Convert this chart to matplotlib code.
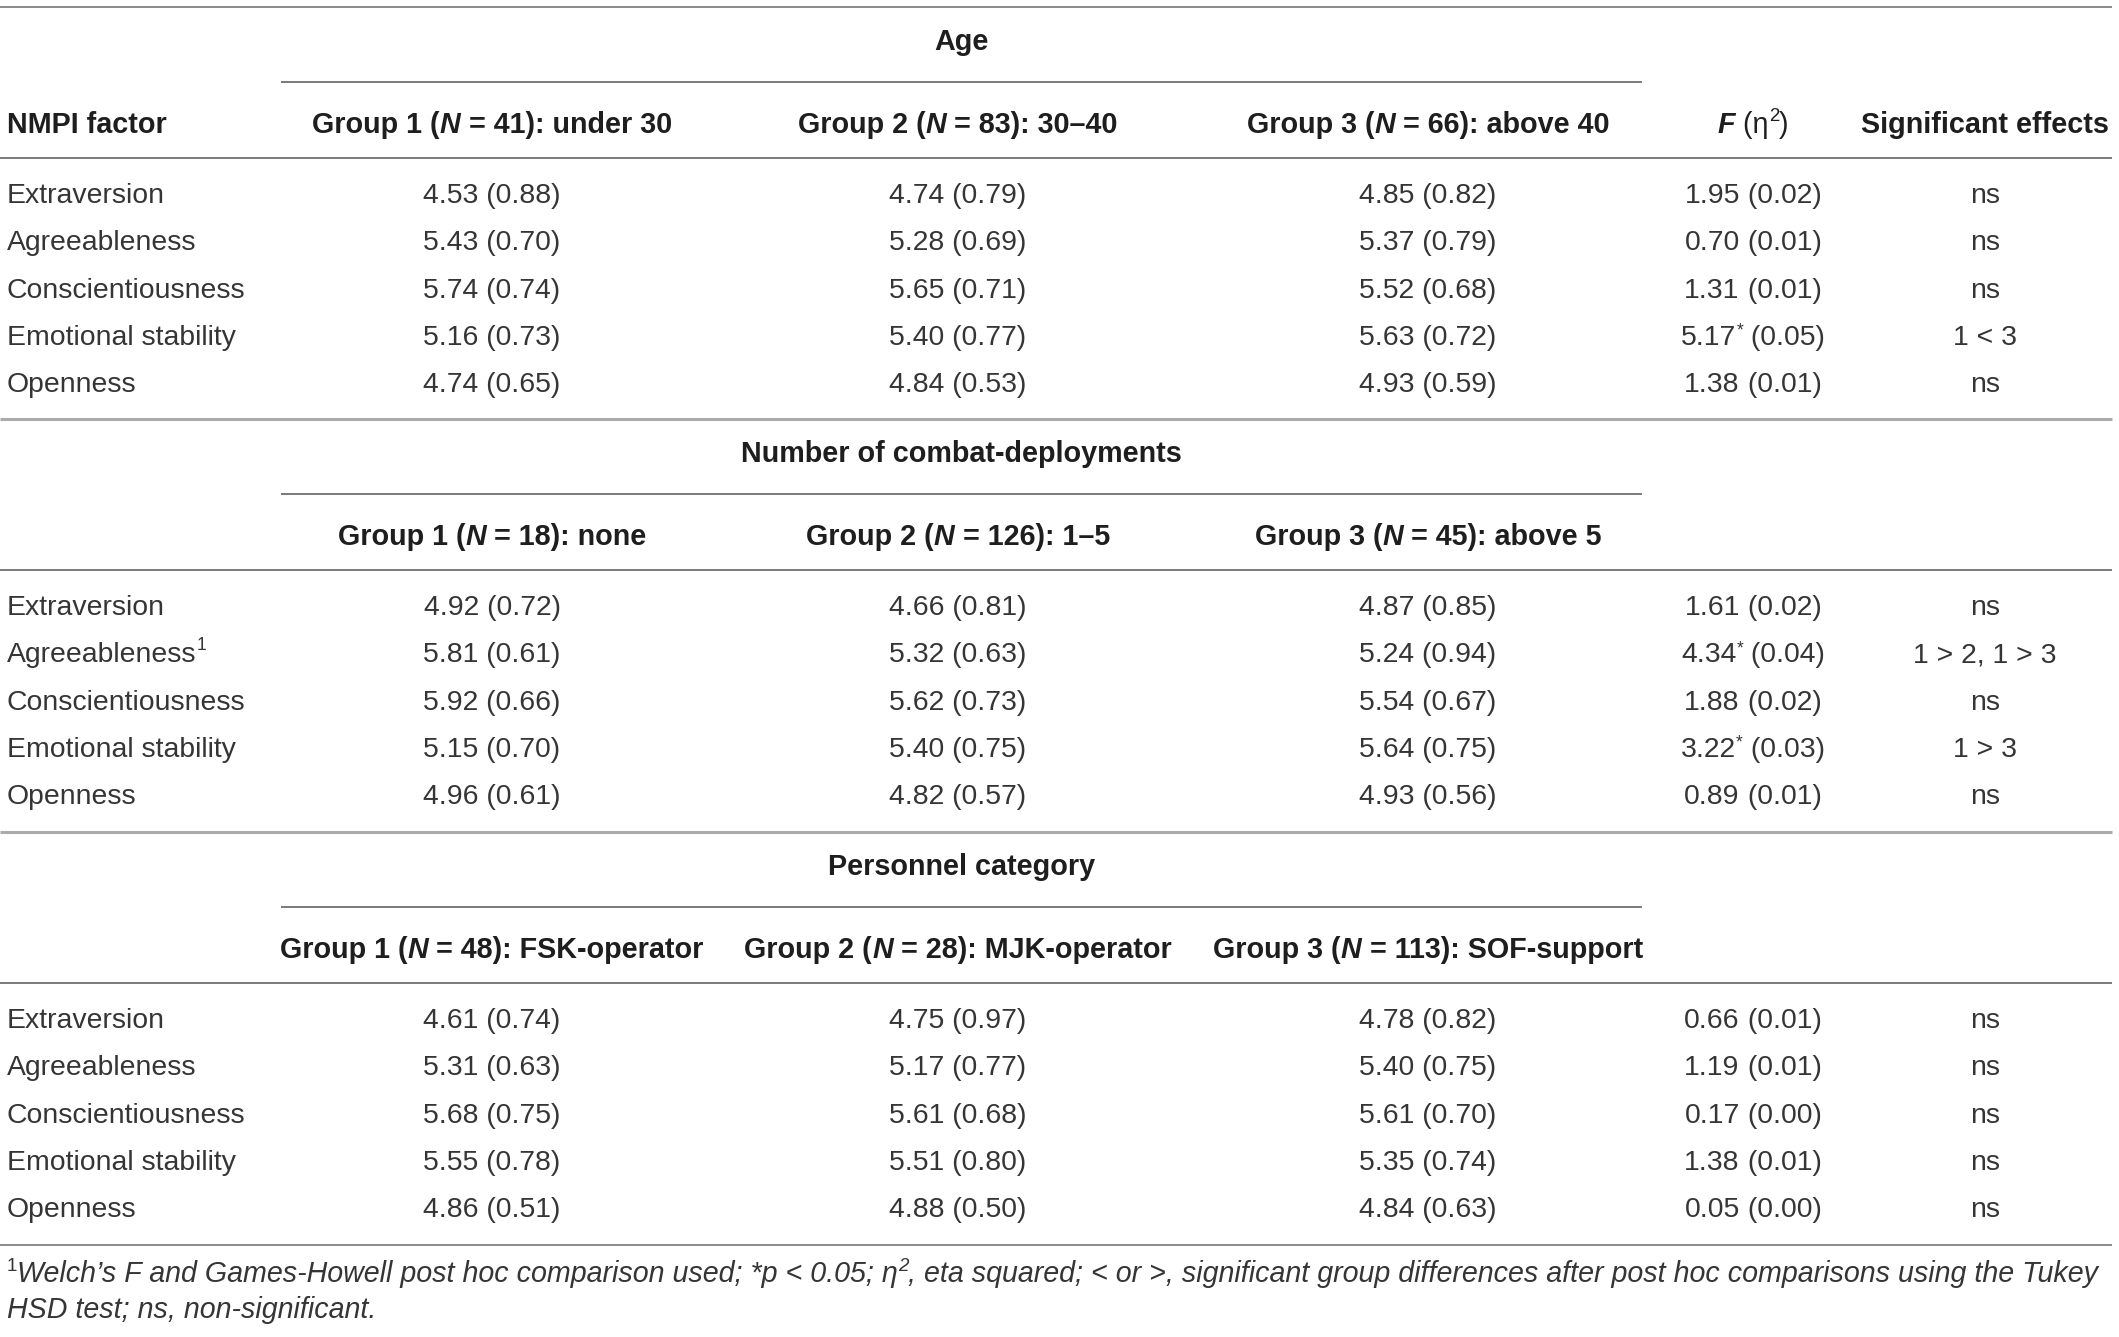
import matplotlib
matplotlib.use("Agg")
import matplotlib.pyplot as plt

# ---- table contents -------------------------------------------------------
factors = ["Extraversion", "Agreeableness", "Conscientiousness",
           "Emotional stability", "Openness"]

section_titles = ["Age", "Number of combat-deployments", "Personnel category"]

age_groups = [("1", "41", "under 30"), ("2", "83", "30\u201340"), ("3", "66", "above 40")]
age_means = [[4.53, 5.43, 5.74, 5.16, 4.74],
             [4.74, 5.28, 5.65, 5.40, 4.84],
             [4.85, 5.37, 5.52, 5.63, 4.93]]
age_sds = [[0.88, 0.70, 0.74, 0.73, 0.65],
           [0.79, 0.69, 0.71, 0.77, 0.53],
           [0.82, 0.79, 0.68, 0.72, 0.59]]
age_f = [1.95, 0.70, 1.31, 5.17, 1.38]
age_eta = [0.02, 0.01, 0.01, 0.05, 0.01]
age_star = [False, False, False, True, False]
age_effects = ["ns", "ns", "ns", "1 < 3", "ns"]

combat_groups = [("1", "18", "none"), ("2", "126", "1\u20135"), ("3", "45", "above 5")]
combat_means = [[4.92, 5.81, 5.92, 5.15, 4.96],
                [4.66, 5.32, 5.62, 5.40, 4.82],
                [4.87, 5.24, 5.54, 5.64, 4.93]]
combat_sds = [[0.72, 0.61, 0.66, 0.70, 0.61],
              [0.81, 0.63, 0.73, 0.75, 0.57],
              [0.85, 0.94, 0.67, 0.75, 0.56]]
combat_f = [1.61, 4.34, 1.88, 3.22, 0.89]
combat_eta = [0.02, 0.04, 0.02, 0.03, 0.01]
combat_star = [False, True, False, True, False]
combat_effects = ["ns", "1 > 2, 1 > 3", "ns", "1 > 3", "ns"]
combat_note_row = 1   # Agreeableness gets footnote mark

pers_groups = [("1", "48", "FSK-operator"), ("2", "28", "MJK-operator"), ("3", "113", "SOF-support")]
pers_means = [[4.61, 5.31, 5.68, 5.55, 4.86],
              [4.75, 5.17, 5.61, 5.51, 4.88],
              [4.78, 5.40, 5.61, 5.35, 4.84]]
pers_sds = [[0.74, 0.63, 0.75, 0.78, 0.51],
            [0.97, 0.77, 0.68, 0.80, 0.50],
            [0.82, 0.75, 0.70, 0.74, 0.63]]
pers_f = [0.66, 1.19, 0.17, 1.38, 0.05]
pers_eta = [0.01, 0.01, 0.00, 0.01, 0.00]
pers_star = [False] * 5
pers_effects = ["ns"] * 5

footnote_1 = ("Welch\u2019s F and Games-Howell post hoc comparison used; *p < 0.05; \u03b7")
footnote_2 = (", eta squared; < or >, significant group differences after post hoc "
              "comparisons using the Tukey")
footnote_3 = "HSD test; ns, non-significant."

# ---- layout ---------------------------------------------------------------
W, H = 2119, 1337
FONT = ["Liberation Sans", "DejaVu Sans"]
FS = 20.4
FSH = 20.7
BODY = "#353535"
HEAD = "#1e1e1e"
LINE = "#7a7a7a"

x_label = 7
x_cols = [492, 958, 1428]
x_f = 1753
x_sig = 1985
span = (281, 1642)
right = 2112

fig = plt.figure(figsize=(W / 100, H / 100), dpi=100)
ax = fig.add_axes([0, 0, 1, 1])
ax.set_xlim(0, W)
ax.set_ylim(H, 0)
ax.axis("off")
renderer = fig.canvas.get_renderer()


def rich(x, y, parts, ha="center"):
    """parts: list of (text, dict(weight, style, size, dy, color))"""
    objs = []
    for s, st in parts:
        t = ax.text(0, y + st.get("dy", 0), s, fontsize=st.get("size", FS),
                    fontweight=st.get("weight", "normal"), fontstyle=st.get("style", "normal"),
                    color=st.get("color", BODY), family=FONT, va="baseline", ha="left")
        objs.append(t)
    widths = [t.get_window_extent(renderer).width for t in objs]
    total = sum(widths)
    x0 = x - total / 2 if ha == "center" else x
    for t, w in zip(objs, widths):
        t.set_x(x0)
        x0 += w
    return total


def hline(y, x0=0, x1=right, color=LINE, lw=1.4):
    ax.plot([x0, x1], [y, y], color=color, lw=lw, solid_capstyle="butt")


B = dict(weight="bold", color=HEAD, size=FSH)
BI = dict(weight="bold", style="italic", color=HEAD, size=FSH)
SUP = dict(size=FS * 0.62, dy=-12)
STAR = dict(size=FS * 0.62, dy=-9)

sections = [
    (age_groups, age_means, age_sds, age_f, age_eta, age_star, age_effects, None),
    (combat_groups, combat_means, combat_sds, combat_f, combat_eta, combat_star, combat_effects, combat_note_row),
    (pers_groups, pers_means, pers_sds, pers_f, pers_eta, pers_star, pers_effects, None),
]
tops = [7, 419, 832]

for k, (groups, means, sds, fvals, etas, stars, effects, note_row) in enumerate(sections):
    y0 = tops[k]
    if k == 0:
        hline(y0, lw=1.4, color="#8a8a8a")
    else:
        hline(y0, lw=2.2, color="#ababab")
    off = 10  # baseline below visual centre
    rich((span[0] + span[1]) / 2, y0 + 33 + off, [(section_titles[k], B)])
    hline(y0 + 75, span[0], span[1])
    yh = y0 + 116 + off
    if k == 0:
        rich(x_label, yh, [("NMPI factor", B)], ha="left")
        rich(x_f, yh, [("F", BI), (" (\u03b7", dict(color=HEAD, size=FSH)),
                       ("2", dict(color=HEAD, size=FSH * 0.65, dy=-12)),
                       (")", dict(color=HEAD, size=FSH))])
        rich(x_sig, yh, [("Significant effects", B)])
    for (g, n, desc), xc in zip(groups, x_cols):
        rich(xc, yh, [("Group %s (" % g, B), ("N", BI), (" = %s): %s" % (n, desc), B)])
    hline(y0 + 151)
    for i, name in enumerate(factors):
        yr = y0 + 186 + 47.3 * i + off
        parts = [(name, {})]
        if note_row == i:
            parts.append(("1", SUP))
        rich(x_label, yr, parts, ha="left")
        for j, xc in enumerate(x_cols):
            rich(xc, yr, [("%.2f (%.2f)" % (means[j][i], sds[j][i]), {})])
        fparts = [("%.2f" % fvals[i], {})]
        if stars[i]:
            fparts.append(("*", STAR))
        fparts.append((" (%.2f)" % etas[i], {}))
        rich(x_f, yr, fparts)
        rich(x_sig, yr, [(effects[i], {})])

hline(1245, lw=1.4, color="#8a8a8a")

# footnote
FN = dict(style="italic", size=20.6)
FNS = dict(style="italic", size=13.5, dy=-11)
rich(x_label, 1282, [("1", dict(size=13.5, dy=-11)), (footnote_1, FN),
                     ("2", FNS), (footnote_2, FN)], ha="left")
rich(x_label, 1318, [(footnote_3, FN)], ha="left")

fig.savefig("out.png", dpi=100)
